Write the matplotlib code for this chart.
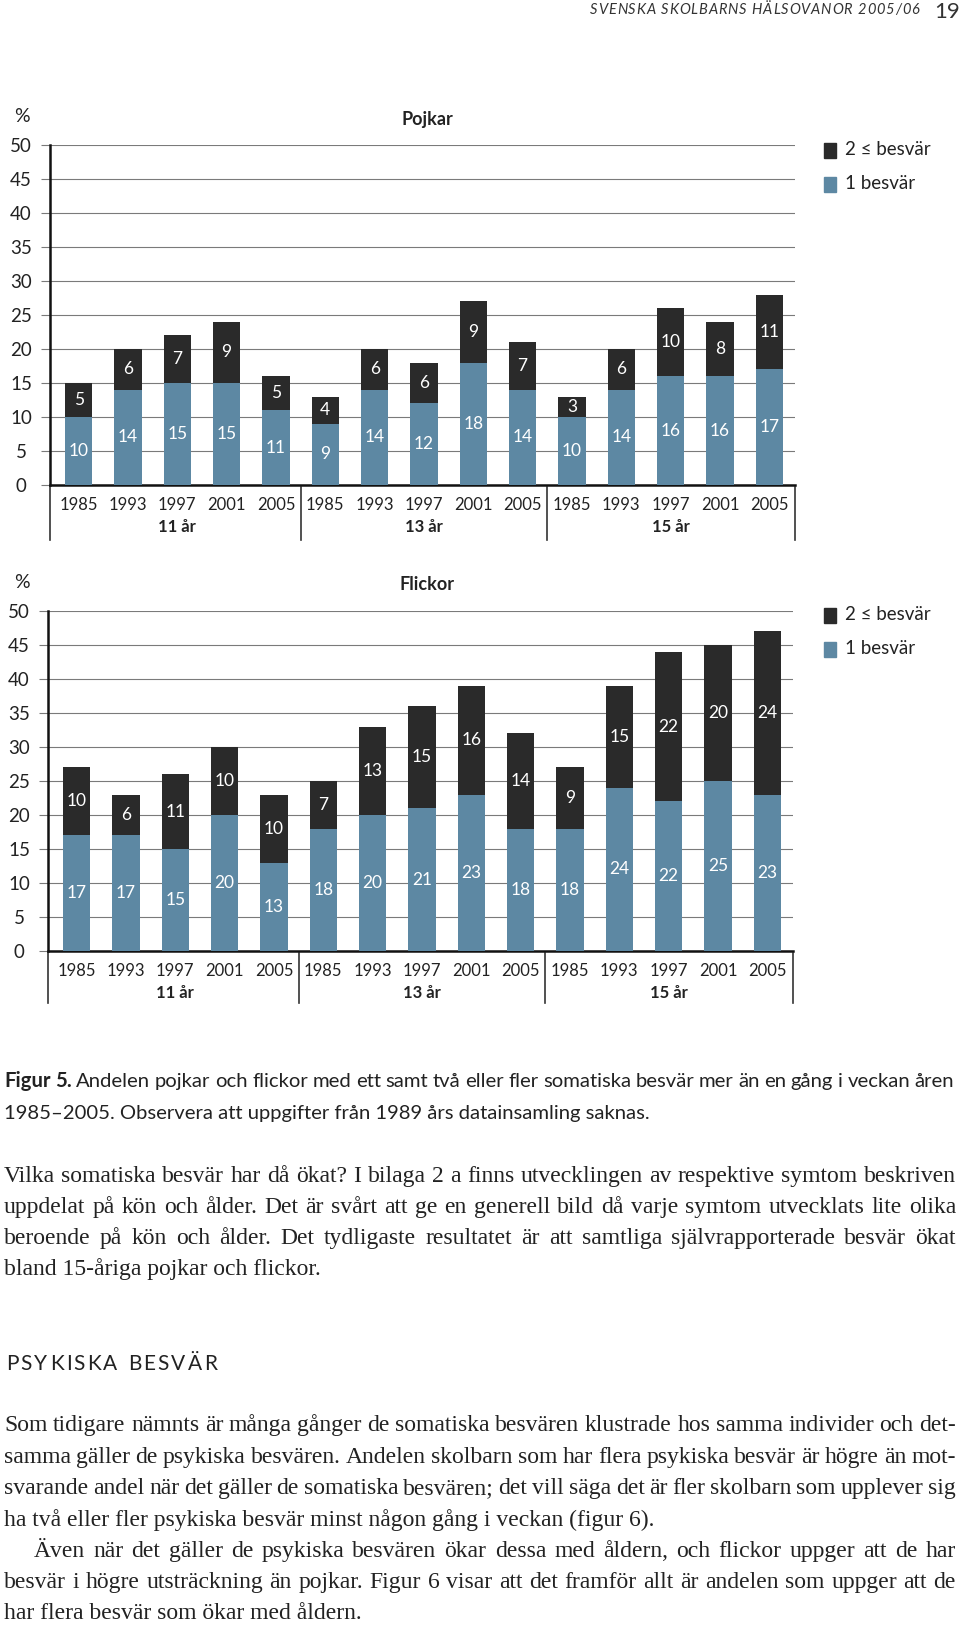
import matplotlib
matplotlib.use("Agg")
import matplotlib.pyplot as plt
import matplotlib.transforms as mtransforms
from matplotlib.patches import Rectangle

W, H = 960, 1625

years = ["1985", "1993", "1997", "2001", "2005"]
ages = ["11 år", "13 år", "15 år"]

# 1 besvär / 2 eller fler besvär, ordning: 11 år, 13 år, 15 år
boys_one = [10, 14, 15, 15, 11, 9, 14, 12, 18, 14, 10, 14, 16, 16, 17]
boys_two = [5, 6, 7, 9, 5, 4, 6, 6, 9, 7, 3, 6, 10, 8, 11]
girls_one = [17, 17, 15, 20, 13, 18, 20, 21, 23, 18, 18, 24, 22, 25, 23]
girls_two = [10, 6, 11, 10, 10, 7, 13, 15, 16, 14, 9, 15, 22, 20, 24]

legend_labels = ["2 ≤ besvär", "1 besvär"]

caption = [
    "Figur 5. Andelen pojkar och flickor med ett samt två eller fler somatiska besvär mer än en gång i veckan åren",
    "1985–2005. Observera att uppgifter från 1989 års datainsamling saknas.",
]
para1 = [
    "Vilka somatiska besvär har då ökat? I bilaga 2 a finns utvecklingen av respektive symtom beskriven",
    "uppdelat på kön och ålder. Det är svårt att ge en generell bild då varje symtom utvecklats lite olika",
    "beroende på kön och ålder. Det tydligaste resultatet är att samtliga självrapporterade besvär ökat",
    "bland 15-åriga pojkar och flickor.",
]
para2 = [
    "Som tidigare nämnts är många gånger de somatiska besvären klustrade hos samma individer och det-",
    "samma gäller de psykiska besvären. Andelen skolbarn som har flera psykiska besvär är högre än mot-",
    "svarande andel när det gäller de somatiska besvären; det vill säga det är fler skolbarn som upplever sig",
    "ha två eller fler psykiska besvär minst någon gång i veckan (figur 6).",
]
para3 = [
    "Även när det gäller de psykiska besvären ökar dessa med åldern, och flickor uppger att de har",
    "besvär i högre utsträckning än pojkar. Figur 6 visar att det framför allt är andelen som uppger att de",
    "har flera besvär som ökar med åldern.",
]

DARK = "#2a2a2a"
BLUE = "#5d88a3"
GRID = "#7a7a7a"
TXT = "#222222"
SANS = ["Lato", "DejaVu Sans"]
SERIF = ["Liberation Serif", "DejaVu Serif"]

fig = plt.figure(figsize=(9.6, 16.25), dpi=100)
renderer = fig.canvas.get_renderer()


def fx(x):
    return x / W


def fy(y):
    return 1 - y / H


def panel(left, top, right, bottom, one, two, title, sep_bottom, leg_top):
    ax = fig.add_axes([fx(left), fy(bottom), (right - left) / W, (bottom - top) / H])
    x = list(range(len(one)))
    ax.bar(x, one, width=0.55, color=BLUE, zorder=3)
    ax.bar(x, two, bottom=one, width=0.55, color=DARK, zorder=3)
    ax.set_xlim(-0.58, 14.52)
    ax.set_ylim(0, 50)
    ax.set_yticks(range(0, 51, 5))
    ax.set_xticks([])
    ax.yaxis.grid(True, color=GRID, lw=0.8, zorder=0)
    ax.tick_params(axis="y", length=6.2, width=0.8, color=GRID, labelleft=False)
    for s in ["top", "right"]:
        ax.spines[s].set_visible(False)
    for s in ["left", "bottom"]:
        ax.spines[s].set_linewidth(1.8)
        ax.spines[s].set_color("#111111")

    for i in x:
        ax.text(i, one[i] / 2, str(one[i]), ha="center", va="center",
                color="white", fontsize=12.5, family=SANS, zorder=4)
        ax.text(i, one[i] + two[i] / 2, str(two[i]), ha="center", va="center",
                color="white", fontsize=12.5, family=SANS, zorder=4)

    ytr = mtransforms.offset_copy(ax.get_yaxis_transform(), fig=fig, x=-29, y=-1, units="dots")
    for v in range(0, 51, 5):
        ax.text(0, v, str(v), transform=ytr, ha="center", va="center",
                fontsize=13.5, color=TXT, family=SANS)

    xtr = mtransforms.offset_copy(ax.get_xaxis_transform(), fig=fig, y=-20, units="dots")
    gtr = mtransforms.offset_copy(ax.get_xaxis_transform(), fig=fig, y=-42, units="dots")
    for i in x:
        ax.text(i, 0, years[i % 5], transform=xtr, ha="center", va="center",
                fontsize=12, color=TXT, family=SANS)
    for g, age in enumerate(ages):
        ax.text(g * 5 + 2, 0, age, transform=gtr, ha="center", va="center",
                fontsize=12, fontweight="bold", color=TXT, family=SANS)

    h = bottom - top
    for sx in [-0.58, 4.5, 9.5, 14.52]:
        ax.plot([sx, sx], [-2 / h, -(sep_bottom - bottom) / h], color="#333333",
                lw=1.2, transform=ax.get_xaxis_transform(), clip_on=False)

    fig.text(fx(22), fy(top - 28), "%", ha="center", va="center",
             fontsize=14, color=TXT, family=SANS)
    fig.text(fx(427), fy(top - 26), title, ha="center", va="center",
             fontsize=13, fontweight="bold", color=TXT, family=SANS)

    for k, (lab, col) in enumerate(zip(legend_labels, [DARK, BLUE])):
        y0 = leg_top + k * 34
        fig.patches.append(Rectangle((fx(824), fy(y0 + 15)), 12 / W, 15 / H,
                                     transform=fig.transFigure, color=col))
        fig.text(fx(845), fy(y0 + 6.5), lab, ha="left", va="center",
                 fontsize=13.5, color=TXT, family=SANS)
    return ax


panel(50, 145, 795, 485, boys_one, boys_two, "Pojkar", 540, 143)
panel(48, 611, 793, 951, girls_one, girls_two, "Flickor", 1003, 608)


def width_of(t):
    return t.get_window_extent(renderer).width


def tracked(y, s, **kw):
    # y = baslinje i pixlar
    texts, widths = [], []
    size = kw.get("fontsize", 10)
    for ch in s:
        if ch == " ":
            texts.append(None)
            widths.append(size * 0.28 * 100 / 72)
            continue
        t = fig.text(0, fy(y), ch, va="baseline", ha="left", **kw)
        texts.append(t)
        widths.append(width_of(t))
    return texts, widths


def place_tracked(texts, widths, x0, x1):
    track = (x1 - x0 - sum(widths)) / (len(widths) - 1)
    x = x0
    for t, w in zip(texts, widths):
        if t is not None:
            t.set_x(fx(x))
        x += w + track


# sidhuvud
ts, ws = tracked(14, "SVENSKA SKOLBARNS HÄLSOVANOR 2005/06", fontsize=10.5,
                 style="italic", color="#333333", family=SANS)
place_tracked(ts, ws, 590, 919)
fig.text(fx(934), fy(18), "19", ha="left", va="baseline", fontsize=16,
         color="#333333", family=SANS)


def fit_size(line, x0, x1, family, start=20.0, min_gap=5.0, first_bold=0):
    words = line.split(" ")
    ts = [fig.text(0, 0, w, family=family, fontsize=start,
                   fontweight="bold" if i < first_bold else "normal")
          for i, w in enumerate(words)]
    total = sum(width_of(t) for t in ts)
    for t in ts:
        t.remove()
    return start * (x1 - x0 - min_gap * (len(words) - 1)) / total


def justify(line, x0, x1, y, size, last=False, family=SERIF, first_bold=0):
    # y = radens mitt i pixlar; texten sätts på baslinjen
    base = fy(y + 0.26 * size * 100 / 72)
    words = line.split(" ")
    kw = dict(va="baseline", ha="left", family=family, fontsize=size, color=TXT)
    if last:
        if first_bold:
            t = fig.text(fx(x0), base, " ".join(words[:first_bold]) + " ",
                         fontweight="bold", **kw)
            x0 += width_of(t)
            words = words[first_bold:]
        fig.text(fx(x0), base, " ".join(words), **kw)
        return
    texts = [fig.text(0, base, w, fontweight="bold" if i < first_bold else "normal", **kw)
             for i, w in enumerate(words)]
    widths = [width_of(t) for t in texts]
    gap = (x1 - x0 - sum(widths)) / (len(words) - 1)
    x = x0
    for t, w in zip(texts, widths):
        t.set_x(fx(x))
        x += w + gap


cap_size = min(15, fit_size(caption[0], 4, 954, SANS, min_gap=4.5, first_bold=2))
justify(caption[0], 4, 954, 1082, cap_size, family=SANS, first_bold=2)
justify(caption[1], 4, 954, 1114, cap_size, last=True, family=SANS)

body_lines = [(para1[:-1], 4), (para2[:-1], 4), (para3[:1], 34), (para3[1:-1], 4)]
body_size = min(fit_size(l, x0, 956, SERIF) for lines, x0 in body_lines for l in lines)
body_size = min(body_size, 17.5)

for k, line in enumerate(para1):
    justify(line, 4, 956, 1176 + k * 31, body_size, last=(k == len(para1) - 1))

ts, ws = tracked(1370, "PSYKISKA BESVÄR", fontsize=15, color=TXT, family=SANS)
place_tracked(ts, ws, 6, 217)

ys = [1425, 1457, 1488, 1520, 1551, 1582, 1613]
for k, line in enumerate(para2):
    justify(line, 4, 956, ys[k], body_size, last=(k == len(para2) - 1))
for k, line in enumerate(para3):
    x0 = 34 if k == 0 else 4
    justify(line, x0, 956, ys[4 + k], body_size, last=(k == len(para3) - 1))

fig.savefig("out.png", dpi=100)
